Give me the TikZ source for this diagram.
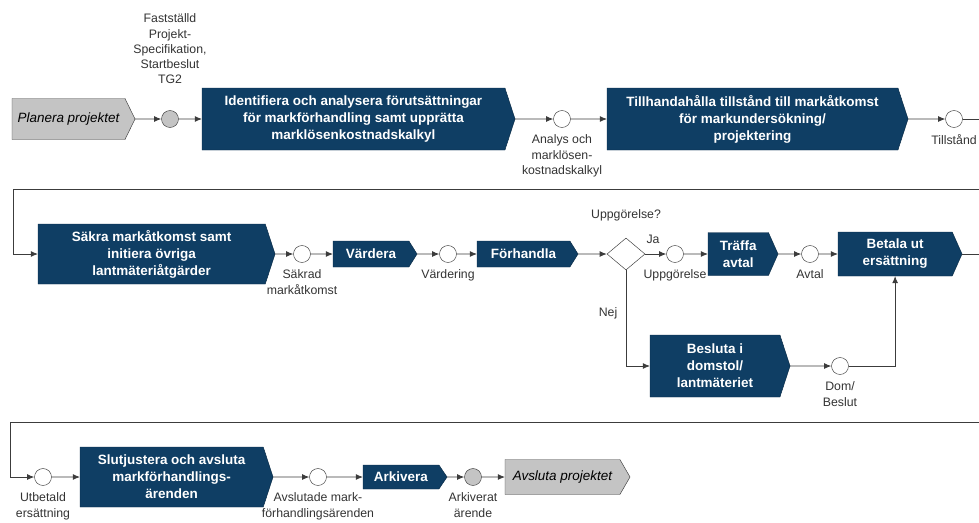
\documentclass[tikz,border=0pt]{standalone}
\usepackage{fontspec}
\setmainfont{Liberation Sans}
\usetikzlibrary{arrows.meta,positioning,shapes.geometric,shapes.symbols,calc}
\definecolor{taskblue}{HTML}{0F3E64}
\definecolor{taskedge}{HTML}{0A2A45}
\definecolor{evgray}{HTML}{C4C4C4}
\definecolor{flowline}{HTML}{3C3C3C}

\begin{document}
\begin{tikzpicture}[
  x=0.03cm, y=-0.03cm,
  sz/.style 2 args={minimum width=#1*0.03cm, minimum height=#2*0.03cm},
  task/.style={
    signal, signal from=nowhere, signal to=east, signal pointer angle=144,
    draw=taskedge, fill=taskblue, text=white, align=center,
    inner sep=2pt, outer sep=0pt, anchor=west,
    font=\fontsize{11.5}{14.5}\selectfont\bfseries
  },
  proj/.style={task, fill=evgray, draw=black!75, text=black,
    font=\fontsize{11.5}{14}\selectfont\itshape},
  event/.style={circle, draw=flowline, fill=white, minimum size=17*0.03cm, inner sep=0pt},
  gate/.style={diamond, draw=flowline, fill=white, aspect=1.2, inner sep=0pt,
    minimum width=38*0.03cm, minimum height=32*0.03cm},
  arr/.style={-{Latex[length=6pt,width=5pt]}, color=flowline, line width=0.75pt},
  lbl/.style={font=\fontsize{10.5}{13}\selectfont, text=black!80, align=center, inner sep=1pt},
]
  \useasboundingbox (0,0) rectangle (979,522);
  \clip (0,0) rectangle (979,522);

  % row 1
  \node[proj, sz={123}{41}, signal pointer angle=128] (plan) at (12,119) {Planera projektet};
  \node[event, fill=evgray] (eStart) at (170,119) {};
  \node[lbl] (lStart) at (170,49) {Fastställd\\Projekt-\\Specifikation,\\Startbeslut\\TG2};
  \node[task, sz={313}{62}] (ident) at (202,119) {Identifiera och analysera förutsättningar\\för markförhandling samt upprätta\\marklösenkostnadskalkyl};
  \node[event] (eAnalys) at (562,119) {};
  \node[lbl, below=5pt of eAnalys] (lAnalys) {Analys och\\marklösen-\\kostnadskalkyl};
  \node[task, sz={301}{62}] (tillst) at (607,119) {Tillhandahålla tillstånd till markåtkomst\\för markundersökning/\\projektering};
  \node[event] (eTill) at (954,119) {};
  \node[lbl, below=5pt of eTill] (lTill) {Tillstånd};

  % row 2
  \node[task, sz={237}{60}] (sakra) at (38,254) {Säkra markåtkomst samt\\initiera övriga\\lantmäteriåtgärder};
  \node[event] (eSakrad) at (302,254) {};
  \node[lbl, below=5pt of eSakrad] (lSakrad) {Säkrad\\markåtkomst};
  \node[task, sz={84}{26}, signal pointer angle=116] (varde) at (333,254) {Värdera};
  \node[event] (eVarde) at (448,254) {};
  \node[lbl, below=5pt of eVarde] (lVarde) {Värdering};
  \node[task, sz={101}{26}, signal pointer angle=116] (forh) at (477,254) {Förhandla};
  \node[gate] (gate) at (626,254) {};
  \node[lbl] (lGate) at (626,215) {Uppgörelse?};
  \node[lbl] (lJa) at (653,239) {Ja};
  \node[event] (eUpp) at (675,254) {};
  \node[lbl, below=5pt of eUpp] (lUpp) {Uppgörelse};
  \node[task, sz={70}{43}, signal pointer angle=132] (traffa) at (708,254) {Träffa\\avtal};
  \node[event] (eAvtal) at (810,254) {};
  \node[lbl, below=5pt of eAvtal] (lAvtal) {Avtal};
  \node[task, sz={124}{44}, signal pointer angle=132] (betala) at (838,254) {Betala ut\\ersättning};
  \node[lbl] (lNej) at (608,313) {Nej};
  \node[task, sz={140}{62}] (beslut) at (650,366) {Besluta i\\domstol/\\lantmäteriet};
  \node[event] (eDom) at (840,366) {};
  \node[lbl, below=5pt of eDom] (lDom) {Dom/\\Beslut};

  % row 3
  \node[event] (eUtb) at (43,477) {};
  \node[lbl, below=5pt of eUtb] (lUtb) {Utbetald\\ersättning};
  \node[task, sz={193}{60}] (slut) at (80,477) {Slutjustera och avsluta\\markförhandlings-\\ärenden};
  \node[event] (eAvsl) at (318,477) {};
  \node[lbl, below=5pt of eAvsl] (lAvsl) {Avslutade mark-\\förhandlingsärenden};
  \node[task, sz={84}{24}, signal pointer angle=112] (ark) at (363,477) {Arkivera};
  \node[event, fill=evgray] (eArk) at (473,477) {};
  \node[lbl, below=5pt of eArk] (lArk) {Arkiverat\\ärende};
  \node[proj, sz={125}{35}, signal pointer angle=120] (avsl) at (505,477) {Avsluta projektet};

  \coordinate (wrapA) at (13,189);
  \coordinate (wrapB) at (10,422);

  \draw[arr] (plan) -- (eStart);
  \draw[arr] (eStart) -- (ident);
  \draw[arr] (ident) -- (eAnalys);
  \draw[arr] (eAnalys) -- (tillst);
  \draw[arr] (tillst) -- (eTill);
  \draw[arr] (eTill.east) -- ++(46,0) |- (wrapA) |- (sakra);
  \draw[arr] (sakra) -- (eSakrad);
  \draw[arr] (eSakrad) -- (varde);
  \draw[arr] (varde) -- (eVarde);
  \draw[arr] (eVarde) -- (forh);
  \draw[arr] (forh) -- (gate);
  \draw[arr] (gate.east) -- (eUpp);
  \draw[arr] (eUpp) -- (traffa);
  \draw[arr] (traffa) -- (eAvtal);
  \draw[arr] (eAvtal) -- (betala);
  \draw[arr] (gate.south) |- (beslut);
  \draw[arr] (beslut) -- (eDom);
  \draw[arr] (eDom) -| (betala);
  \draw[arr] (betala.east) -- ++(46,0) |- (wrapB) |- (eUtb);
  \draw[arr] (eUtb) -- (slut);
  \draw[arr] (slut) -- (eAvsl);
  \draw[arr] (eAvsl) -- (ark);
  \draw[arr] (ark) -- (eArk);
  \draw[arr] (eArk) -- (avsl);
\end{tikzpicture}
\end{document}
